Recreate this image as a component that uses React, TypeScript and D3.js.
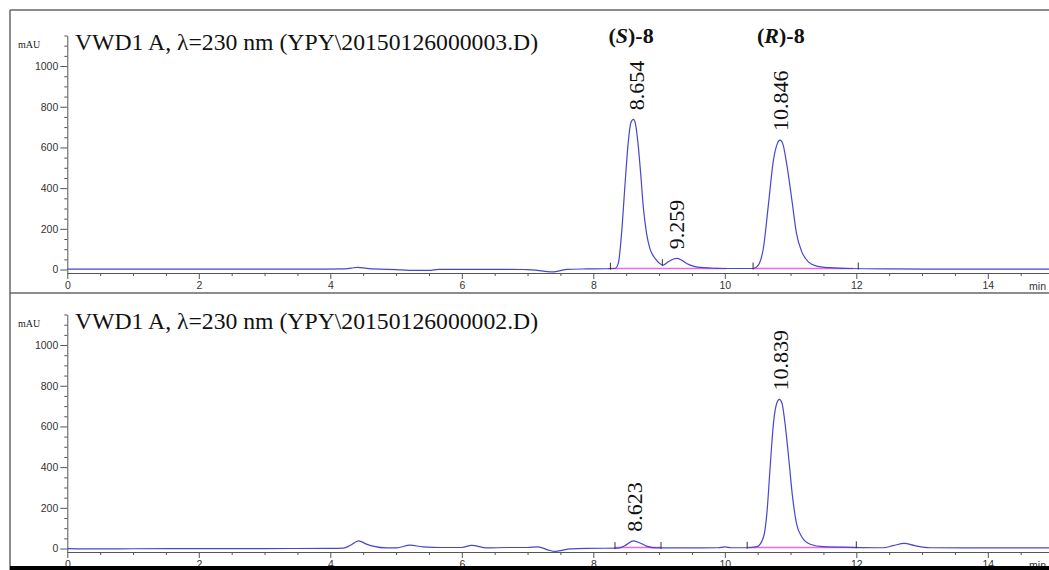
import React, { useEffect, useRef } from 'react';
import * as d3 from 'd3';

const WIDTH = 1049;
const HEIGHT = 570;

// sample 3 trace: retention time (min) and absorbance (mAU)
const topTimes = [0, 1, 2, 3, 3.8, 4.2, 4.32, 4.42, 4.55, 4.75, 5.0, 5.2, 5.5, 5.65, 6.0, 6.5, 7.0, 7.15, 7.3, 7.4, 7.5, 7.6, 7.9, 8.2,
    8.33, 8.38, 8.43, 8.48, 8.53, 8.57, 8.61, 8.64, 8.68, 8.72, 8.76, 8.81, 8.86, 8.94, 9.01, 9.06,
    9.14, 9.22, 9.27, 9.34, 9.42, 9.52, 9.67, 9.87, 10.02, 10.2, 10.43,
    10.51, 10.59, 10.66, 10.74, 10.8, 10.84, 10.88, 10.94, 11.02, 11.09, 11.17, 11.27, 11.4, 11.6, 11.9, 12.5, 13.5, 15.2];
const topSignal = [2, 2, 2, 2, 2, 3, 7, 11, 6, 2, 0, -4, -4, 1, 1, 1, 0, -4, -10, -11, -5, 1, 3, 4,
    5, 30, 178, 407, 620, 720, 738, 718, 620, 474, 309, 178, 104, 55, 30, 22,
    38, 52, 55, 47, 30, 17, 9, 6, 5, 5, 5,
    22, 112, 309, 538, 620, 636, 620, 522, 342, 178, 88, 38, 17, 9, 5, 3, 2, 2];

// sample 2 trace
const bottomTimes = [0, 0.5, 1, 2, 3, 4.0, 4.2, 4.3, 4.43, 4.55, 4.65, 4.86, 5.01, 5.21, 5.41, 5.7, 6.0, 6.15, 6.38, 6.7, 7.0, 7.16,
    7.32, 7.42, 7.54, 7.64, 7.9, 8.38, 8.5, 8.61, 8.72, 8.81, 8.96, 9.5, 9.9, 10.0, 10.1, 10.35,
    10.49, 10.59, 10.64, 10.69, 10.74, 10.79, 10.83, 10.87, 10.91, 10.97, 11.03, 11.09, 11.17, 11.3, 11.5, 11.9,
    12.41, 12.56, 12.73, 12.89, 13.12, 14, 15.2];
const bottomSignal = [0, -2, -1, 0, 0, 1, 2, 15, 38, 22, 12, 3, 3, 17, 8, 5, 5, 16, 3, 5, 5, 8,
    -8, -14, -8, -2, 1, 2, 18, 38, 26, 12, 3, 3, 4, 8, 4, 4,
    9, 58, 173, 402, 615, 714, 733, 714, 631, 451, 255, 124, 58, 21, 9, 6,
    4, 14, 25, 14, 4, 3, 3];

const topTitle = 'VWD1 A, \u03bb=230 nm (YPY\\20150126000003.D)';
const bottomTitle = 'VWD1 A, \u03bb=230 nm (YPY\\20150126000002.D)';

const topPeakLabels = ['8.654', '9.259', '10.846'];
const bottomPeakLabels = ['8.623', '10.839'];

// enantiomer names over the top panel
const isomerNames = ['S', 'R'];
const isomerTimes = [8.23, 10.49];

// integration baseline segments and their boundary marks
const topBaseStart = [8.26, 9.05, 10.43];
const topBaseEnd = [9.05, 10.02, 11.95];
const bottomBaseStart = [8.33, 10.34];
const bottomBaseEnd = [9.03, 12.0];
const topMarks = [8.26, 9.05, 10.43, 12.03];
const bottomMarks = [8.33, 9.03, 10.34, 12.0];
const BASE_LEVEL = 5;

const xMajor = [0, 2, 4, 6, 8, 10, 12, 14];
const yMajor = [0, 200, 400, 600, 800, 1000];

const App = () => {
    const ref = useRef<SVGSVGElement>(null);

    useEffect(() => {
        const svg = d3.select(ref.current);
        svg.selectAll('*').remove();

        const x = d3.scaleLinear().domain([0, 15]).range([67.3, 67.3 + 15 * 65.75]);
        const yMin = -17, yMax = 1150;
        const y = d3.scaleLinear().domain([yMin, yMax]).range([273, 273 - (yMax - yMin) * 0.2035]);
        const sans = '"Liberation Sans", Arial, sans-serif';
        const serif = '"Liberation Serif", "Times New Roman", serif';

        const panels = [
            { offset: 0, title: topTitle, times: topTimes, signal: topSignal, labels: topPeakLabels, bs: topBaseStart, be: topBaseEnd, marks: topMarks },
            { offset: 279, title: bottomTitle, times: bottomTimes, signal: bottomSignal, labels: bottomPeakLabels, bs: bottomBaseStart, be: bottomBaseEnd, marks: bottomMarks },
        ];

        panels.forEach(p => {
            const g = svg.append('g').attr('transform', `translate(0,${p.offset})`);
            const pts = p.times.map((t, i) => [t, p.signal[i]] as [number, number]);

            // axes
            const xAxis = g.append('g').attr('transform', `translate(0,${y(yMin)})`)
                .call(d3.axisBottom(x).tickValues(xMajor).tickSize(6).tickSizeOuter(0).tickFormat(d3.format('d')));
            g.append('g').attr('transform', `translate(0,${y(yMin)})`)
                .call(d3.axisBottom(x).tickValues(d3.range(1, 31).map(d => d * 0.5).filter(d => d % 2 !== 0)).tickSize(3).tickFormat(() => ''))
                .call(s => s.select('.domain').remove());
            g.append('g').attr('transform', `translate(${x(0)},0)`)
                .call(d3.axisLeft(y).tickValues(yMajor).tickSize(7).tickPadding(2).tickSizeOuter(0).tickFormat(d3.format('d')));
            g.append('g').attr('transform', `translate(${x(0)},0)`)
                .call(d3.axisLeft(y).tickValues(d3.range(50, 1151, 50).filter(d => d % 200 !== 0)).tickSize(3).tickFormat(() => ''))
                .call(s => s.select('.domain').remove());
            g.selectAll('.tick text').attr('fill', '#333').style('font-family', sans).style('font-size', '10.5px');
            g.selectAll('.domain, .tick line').attr('stroke', '#555');
            xAxis.append('text').attr('x', WIDTH - 3).attr('y', 17).attr('fill', '#333').attr('text-anchor', 'end')
                .style('font-family', sans).style('font-size', '10.5px').text('min');

            g.append('text').attr('x', 18).attr('y', 48).attr('fill', '#222')
                .style('font-family', serif).style('font-size', '10px').text('mAU');
            g.append('text').attr('x', 75).attr('y', 50).attr('fill', '#111')
                .style('font-family', serif).style('font-size', '23.7px').text(p.title);

            // integration baselines
            p.bs.forEach((s, i) => {
                g.append('line').attr('x1', x(s)).attr('x2', x(p.be[i]))
                    .attr('y1', y(BASE_LEVEL)).attr('y2', y(BASE_LEVEL))
                    .attr('stroke', '#e86ae8').attr('stroke-width', 1.5);
            });

            const line = d3.line<[number, number]>().x(d => x(d[0])).y(d => y(d[1])).curve(d3.curveMonotoneX);
            g.append('path').datum(pts).attr('d', line).attr('fill', 'none')
                .attr('stroke', '#4646d2').attr('stroke-width', 1.2);

            const near = (t: number) => pts[d3.minIndex(pts, d => Math.abs(d[0] - t))][1];
            p.marks.forEach(t => {
                const v = near(t);
                g.append('line').attr('x1', x(t)).attr('x2', x(t))
                    .attr('y1', y(v) - 6).attr('y2', y(v) + 1)
                    .attr('stroke', '#333').attr('stroke-width', 1);
            });

            // retention time labels
            p.labels.forEach(lbl => {
                const t = +lbl;
                const h = d3.max(pts.filter(d => Math.abs(d[0] - t) < 0.12), d => d[1]) ?? 0;
                g.append('text')
                    .attr('transform', `translate(${x(t)},${y(h) - 9}) rotate(-90)`)
                    .attr('dy', '0.35em').attr('fill', '#111')
                    .style('font-family', serif).style('font-size', '22px')
                    .text(lbl);
            });
        });

        // enantiomer labels
        isomerNames.forEach((c, i) => {
            const txt = svg.append('text').attr('x', x(isomerTimes[i])).attr('y', 43).attr('fill', '#111')
                .style('font-family', serif).style('font-size', '22px').style('font-weight', 'bold');
            txt.append('tspan').text('(');
            txt.append('tspan').style('font-style', 'italic').text(c);
            txt.append('tspan').text(')-8');
        });

        // frame
        svg.append('line').attr('x1', 10).attr('x2', WIDTH).attr('y1', 10).attr('y2', 10).attr('stroke', '#666').attr('stroke-width', 1.5);
        svg.append('line').attr('x1', 10).attr('x2', WIDTH).attr('y1', 293).attr('y2', 293).attr('stroke', '#666').attr('stroke-width', 1.5);
        svg.append('line').attr('x1', 10).attr('x2', 10).attr('y1', 10).attr('y2', HEIGHT).attr('stroke', '#666').attr('stroke-width', 1.5);
        svg.append('rect').attr('x', 10).attr('y', 566).attr('width', WIDTH - 10).attr('height', 4).attr('fill', '#000');
    }, []);

    return (
        <svg ref={ref} width={WIDTH} height={HEIGHT}
            style={{ position: 'absolute', left: 0, top: 0, background: '#fff' }} />
    );
};

export default App;
